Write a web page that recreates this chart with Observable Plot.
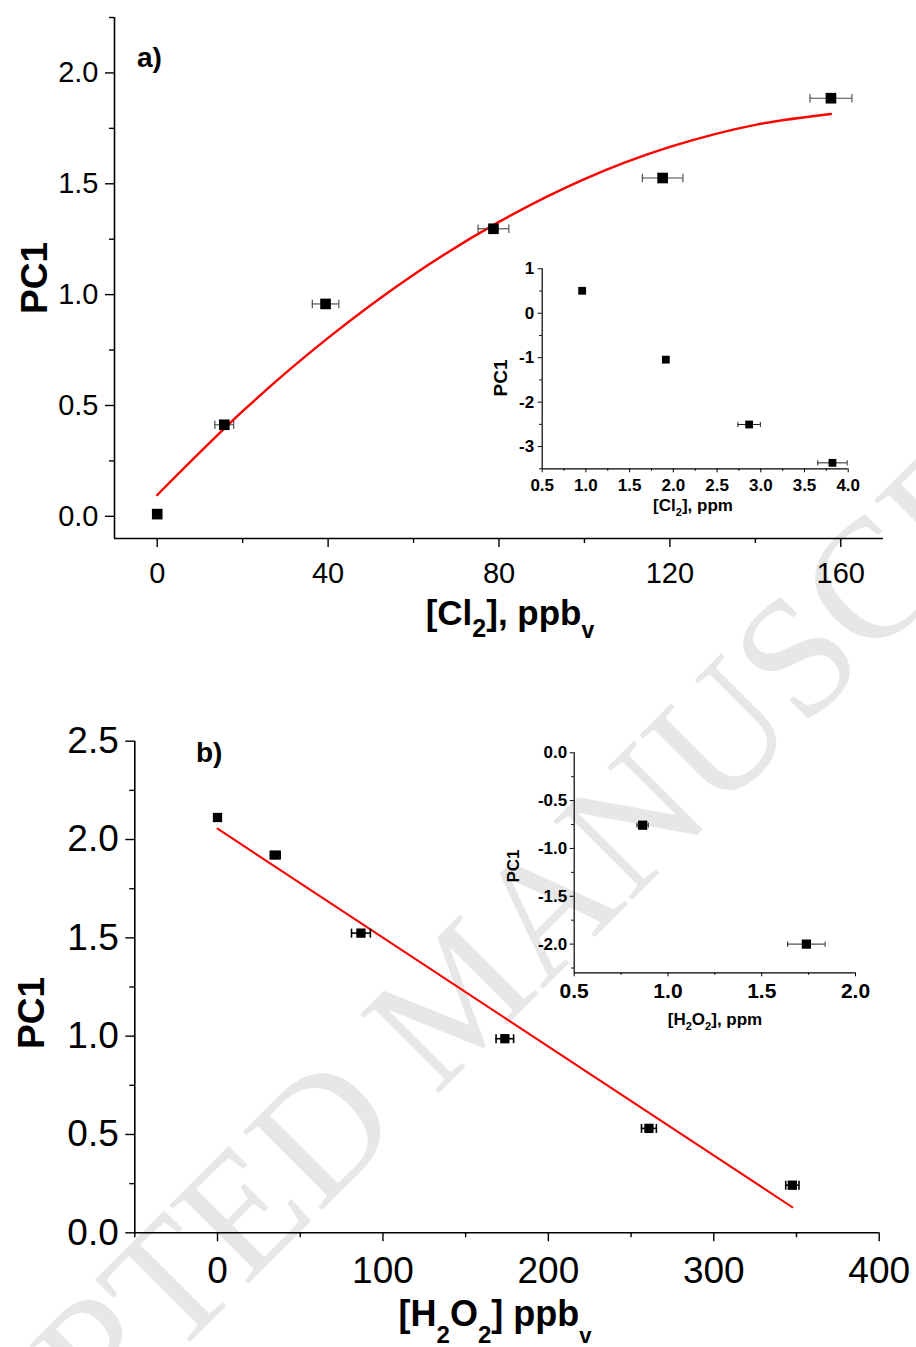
<!DOCTYPE html>
<html><head><meta charset="utf-8">
<script src="https://cdn.jsdelivr.net/npm/d3@7"></script>
<script src="https://cdn.jsdelivr.net/npm/@observablehq/plot@0.6"></script>
<style>
html,body{margin:0;padding:0;background:#fff;}
#wrap{position:relative;width:916px;height:1347px;overflow:hidden;background:#fff;font-family:"Liberation Sans",Arial,sans-serif;}
#wrap svg{position:absolute;left:0;top:0;}
</style></head><body><div id="wrap">
<svg width="916" height="1347" style="position:absolute;left:0;top:0">
<text transform="translate(497,1035) rotate(-45)" text-anchor="middle" font-family="'Liberation Serif','DejaVu Serif',serif" font-size="170" fill="#e7e7e7">ACCEPTED MANUSCRIPT</text>
</svg>
</div>
<script>
// ---------- Panel a: main (Cl2, ppbv) ----------
const cl2Ppb      = [0, 15.7, 39.4, 78.7, 118.3, 157.7];
const cl2Pc1      = [0.01, 0.413, 0.958, 1.297, 1.526, 1.886];
const cl2PpbErr   = [0, 2.2, 3.1, 3.6, 4.75, 4.9];
const cl2FitX     = [0, 20, 40, 60, 80, 100, 120, 140, 157.7];
const cl2FitY     = [0.096, 0.474, 0.805, 1.090, 1.328, 1.521, 1.666, 1.766, 1.815];
const aXDomain    = [-10, 170];
const aYDomain    = [-0.1, 2.25];
const aXMajor     = [0, 40, 80, 120, 160];
const aXMinor     = [20, 60, 100, 140];
const aYMajor     = [0, 0.5, 1.0, 1.5, 2.0];
const aYMinor     = [0.25, 0.75, 1.25, 1.75, 2.25];

// ---------- Panel a: inset (Cl2, ppm) ----------
const cl2Ppm      = [0.957, 1.914, 2.867, 3.82];
const cl2PpmPc1   = [0.505, -1.044, -2.503, -3.366];
const cl2PpmErr   = [0, 0.03, 0.128, 0.168];
const aiXDomain   = [0.5, 4.0];
const aiYDomain   = [-3.5, 1];
const aiXMajor    = [0.5, 1.0, 1.5, 2.0, 2.5, 3.0, 3.5, 4.0];
const aiXMinor    = [0.75, 1.25, 1.75, 2.25, 2.75, 3.25, 3.75];
const aiYMajor    = [1, 0, -1, -2, -3];
const aiYMinor    = [0.5, -0.5, -1.5, -2.5, -3.5];

// ---------- Panel b: main (H2O2, ppbv) ----------
const h2o2Ppb     = [0, 34.9, 86.7, 173.7, 260.8, 347.5];
const h2o2Pc1     = [2.112, 1.921, 1.524, 0.987, 0.531, 0.242];
const h2o2PpbErr  = [0, 3, 5.7, 5.3, 4.5, 4];
const h2o2FitX    = [0, 347.5];
const h2o2FitY    = [2.055, 0.130];
const bXDomain    = [-50, 400];
const bYDomain    = [0, 2.5];
const bXMajor     = [0, 100, 200, 300, 400];
const bXMinor     = [-50, 50, 150, 250, 350];
const bYMajor     = [0, 0.5, 1.0, 1.5, 2.0, 2.5];
const bYMinor     = [0.25, 0.75, 1.25, 1.75, 2.25];

// ---------- Panel b: inset (H2O2, ppm) ----------
const h2o2Ppm     = [0.865, 1.738];
const h2o2PpmPc1  = [-0.757, -2.0];
const h2o2PpmErr  = [0.03, 0.1];
const biXDomain   = [0.5, 2.0];
const biYDomain   = [-2.3, 0];
const biXMajor    = [0.5, 1.0, 1.5, 2.0];
const biXMinor    = [0.75, 1.25, 1.75];
const biYMajor    = [0, -0.5, -1.0, -1.5, -2.0];
const biYMinor    = [-0.25, -0.75, -1.25, -1.75, -2.25];

const FONT = '"Liberation Sans", Arial, Helvetica, sans-serif';
const W = 916, H = 1347;
const capSymbol = { draw(ctx, size) { const h = Math.sqrt(size / Math.PI); ctx.moveTo(0, -h); ctx.lineTo(0, h); } };
const fmt1 = d => d.toFixed(1);
const fmt0 = d => String(d);

function panel(c) {
  const pts = c.x.map((x, i) => ({x, y: c.y[i], e: c.err[i]}));
  const errPts = pts.filter(d => d.e > 0);
  const marks = [
    Plot.ruleY([c.yDomain[0]], {stroke: "#000", strokeWidth: c.axisW}),
    Plot.ruleX([c.xDomain[0]], {stroke: "#000", strokeWidth: c.axisW}),
    Plot.axisX({ticks: c.xMajor, tickSize: c.tickMajor, tickPadding: c.padX, fontSize: c.fsX, tickFormat: c.fmtX, label: null, strokeWidth: c.tickW, stroke: "#000", fill: "#000"}),
    Plot.axisX({ticks: c.xMinor, tickSize: c.tickMinor, tickFormat: () => "", label: null, strokeWidth: c.tickW, stroke: "#000"}),
    Plot.axisY({ticks: c.yMajor, tickSize: c.tickMajor, tickPadding: c.padY, fontSize: c.fsY, tickFormat: c.fmtY, label: null, strokeWidth: c.tickW, stroke: "#000", fill: "#000"}),
    Plot.axisY({ticks: c.yMinor, tickSize: c.tickMinor, tickFormat: () => "", label: null, strokeWidth: c.tickW, stroke: "#000"})
  ];
  if (c.fitX) {
    const fit = c.fitX.map((x, i) => ({x, y: c.fitY[i]}));
    marks.push(Plot.line(fit, {x: "x", y: "y", stroke: "#ff0000", strokeWidth: c.fitW, curve: c.curve || "linear"}));
  }
  marks.push(
    Plot.ruleY(errPts, {y: "y", x1: d => d.x - d.e, x2: d => d.x + d.e, stroke: c.errColor, strokeWidth: c.errW}),
    Plot.dot(errPts, {x: d => d.x - d.e, y: "y", symbol: capSymbol, r: c.capR, stroke: c.errColor, strokeWidth: c.errW}),
    Plot.dot(errPts, {x: d => d.x + d.e, y: "y", symbol: capSymbol, r: c.capR, stroke: c.errColor, strokeWidth: c.errW}),
    Plot.dot(pts, {x: "x", y: "y", symbol: "square", r: c.r, fill: "#000", stroke: "none"})
  );
  const svg = Plot.plot({
    width: W, height: H,
    marginLeft: c.left, marginRight: W - c.right, marginTop: c.top, marginBottom: H - c.bottom,
    x: {domain: c.xDomain, label: null},
    y: {domain: c.yDomain, label: null},
    style: {background: "transparent", overflow: "visible", fontFamily: FONT, fontWeight: c.fw, color: "#000", maxWidth: "none"},
    marks
  });
  svg.style.position = "absolute"; svg.style.left = "0px"; svg.style.top = "0px";
  document.getElementById("wrap").appendChild(svg);
}

panel({x: cl2Ppb, y: cl2Pc1, err: cl2PpbErr, fitX: cl2FitX, fitY: cl2FitY, curve: "natural",
  xDomain: aXDomain, yDomain: aYDomain, xMajor: aXMajor, xMinor: aXMinor, yMajor: aYMajor, yMinor: aYMinor,
  left: 114, right: 883, top: 17, bottom: 538, axisW: 1.6, tickW: 1.4, tickMajor: 9, tickMinor: 5,
  padX: 15, padY: 7, fsX: 29, fsY: 29, fmtX: fmt0, fmtY: fmt1, fw: "normal",
  fitW: 2.4, errColor: "#444", errW: 1.1, capR: 4.2, r: 6.0});

panel({x: cl2Ppm, y: cl2PpmPc1, err: cl2PpmErr,
  xDomain: aiXDomain, yDomain: aiYDomain, xMajor: aiXMajor, xMinor: aiXMinor, yMajor: aiYMajor, yMinor: aiYMinor,
  left: 541.7, right: 847.7, top: 268.3, bottom: 468.3, axisW: 1.2, tickW: 1, tickMajor: 4, tickMinor: 2.5,
  padX: 6, padY: 4, fsX: 17, fsY: 17, fmtX: fmt1, fmtY: fmt0, fw: "bold",
  errColor: "#222", errW: 1, capR: 2.6, r: 4.4});

panel({x: h2o2Ppb, y: h2o2Pc1, err: h2o2PpbErr, fitX: h2o2FitX, fitY: h2o2FitY,
  xDomain: bXDomain, yDomain: bYDomain, xMajor: bXMajor, xMinor: bXMinor, yMajor: bYMajor, yMinor: bYMinor,
  left: 134.3, right: 878.7, top: 740.7, bottom: 1232.3, axisW: 1.6, tickW: 1.4, tickMajor: 9, tickMinor: 5,
  padX: 15, padY: 7, fsX: 37, fsY: 37, fmtX: fmt0, fmtY: fmt1, fw: "normal",
  fitW: 2, errColor: "#000", errW: 1.6, capR: 4.5, r: 5.25});

panel({x: h2o2Ppm, y: h2o2PpmPc1, err: h2o2PpmErr,
  xDomain: biXDomain, yDomain: biYDomain, xMajor: biXMajor, xMinor: biXMinor, yMajor: biYMajor, yMinor: biYMinor,
  left: 573.7, right: 855, top: 752.3, bottom: 972.3, axisW: 1.2, tickW: 1, tickMajor: 4, tickMinor: 2.5,
  padX: 6, padY: 3, fsX: 21, fsY: 17, fmtX: fmt1, fmtY: fmt1, fw: "bold",
  errColor: "#222", errW: 1, capR: 2.6, r: 5.2});

// ---------- Titles and axis labels (real text) ----------
const ns = "http://www.w3.org/2000/svg";
const lab = document.createElementNS(ns, "svg");
lab.setAttribute("width", W); lab.setAttribute("height", H);
lab.style.position = "absolute"; lab.style.left = "0px"; lab.style.top = "0px";
lab.setAttribute("font-family", FONT); lab.setAttribute("font-weight", "bold"); lab.setAttribute("fill", "#000");
lab.innerHTML = `
<text x="137" y="67" font-size="28">a)</text>
<text x="196" y="762" font-size="28">b)</text>
<text transform="translate(47,278) rotate(-90)" text-anchor="middle" font-size="37">PC1</text>
<text transform="translate(43.5,1013) rotate(-90)" text-anchor="middle" font-size="37">PC1</text>
<text transform="translate(506.5,378) rotate(-90)" text-anchor="middle" font-size="19">PC1</text>
<text transform="translate(519,866) rotate(-90)" text-anchor="middle" font-size="17">PC1</text>
<text x="510" y="625" text-anchor="middle" font-size="35">[Cl<tspan font-size="25" dy="12">2</tspan><tspan dy="-12">], ppb</tspan><tspan font-size="23" dy="13">v</tspan></text>
<text x="495" y="1326" text-anchor="middle" font-size="36">[H<tspan font-size="24" dy="17">2</tspan><tspan dy="-17">O</tspan><tspan font-size="24" dy="17">2</tspan><tspan dy="-17">] ppb</tspan><tspan font-size="22" dy="17">v</tspan></text>
<text x="693" y="511" text-anchor="middle" font-size="17">[Cl<tspan font-size="11" dy="5">2</tspan><tspan dy="-5">], ppm</tspan></text>
<text x="715" y="1025" text-anchor="middle" font-size="17">[H<tspan font-size="11" dy="5">2</tspan><tspan dy="-5">O</tspan><tspan font-size="11" dy="5">2</tspan><tspan dy="-5">], ppm</tspan></text>
`;
document.getElementById("wrap").appendChild(lab);
</script>
</body></html>
